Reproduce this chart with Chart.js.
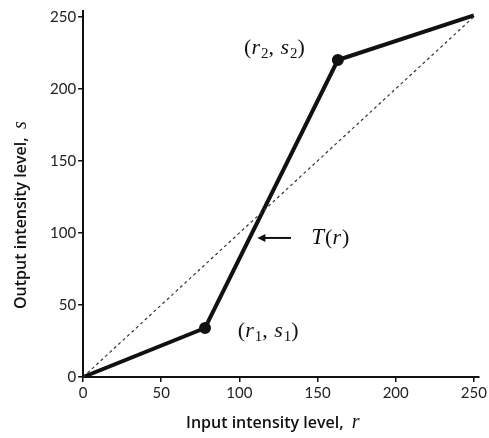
<!DOCTYPE html>
<html>
<head>
<meta charset="utf-8">
<script src="https://cdn.jsdelivr.net/npm/chart.js@4"></script>
<style>
  html, body { margin: 0; padding: 0; background: #fff; }
  #wrap { width: 489px; height: 438px; }
</style>
</head>
<body>
<div id="wrap"><canvas id="chart" width="489" height="438"></canvas></div>
<script>
// transformation function T(r), control points
var curveR = [0, 78, 163, 250];
var curveS = [0, 34, 220, 251];
// identity line
var diagR = [0, 250];
var diagS = [0, 250];
var tickValues = [0, 50, 100, 150, 200, 250];

function pts(xs, ys) {
    var out = [];
    for (var i = 0; i < xs.length; i++) out.push({ x: xs[i], y: ys[i] });
    return out;
}

var SERIF = '"Liberation Serif"';

// draws the (r1,s1), (r2,s2), T(r) labels, the arrow and the axis titles
var labelPlugin = {
    id: 'labels',
    afterDatasetsDraw: function(chart) {
        var c = chart.ctx;
        var xs = chart.scales.x, ys = chart.scales.y;
        c.save();
        c.fillStyle = '#111';
        c.textBaseline = 'alphabetic';

        function run(parts, x, y) {
            parts.forEach(function(p) {
                c.font = p[1];
                c.fillText(p[0], x, y + (p[2] || 0));
                x += c.measureText(p[0]).width + (p[3] || 0);
            });
        }
        function pair(sub, rx, sy) {
            run([
                ['(', '22px ' + SERIF],
                ['r', 'italic 22px ' + SERIF, 0, 1],
                [sub, '15px ' + SERIF, 4],
                [', ', '22px ' + SERIF, 0, 1],
                ['s', 'italic 22px ' + SERIF, 0, 1],
                [sub, '15px ' + SERIF, 4],
                [')', '22px ' + SERIF]
            ], xs.getPixelForValue(rx), ys.getPixelForValue(sy));
        }
        pair('2', 103, 224);
        pair('1', 99, 28);

        // T(r)
        run([
            ['T', 'italic 23px ' + SERIF, 0, 1],
            ['(', '22px ' + SERIF],
            ['r', 'italic 22px ' + SERIF, 0, 1],
            [')', '22px ' + SERIF]
        ], xs.getPixelForValue(146), ys.getPixelForValue(92));

        // arrow
        var ax1 = xs.getPixelForValue(133), ax2 = xs.getPixelForValue(111.5);
        var ay = ys.getPixelForValue(96.5);
        c.strokeStyle = '#111';
        c.lineWidth = 2;
        c.beginPath();
        c.moveTo(ax1, ay);
        c.lineTo(ax2 + 4, ay);
        c.stroke();
        c.beginPath();
        c.moveTo(ax2, ay);
        c.lineTo(ax2 + 8, ay - 4);
        c.lineTo(ax2 + 8, ay + 4);
        c.closePath();
        c.fill();

        // axis titles
        var sans = '600 16px "Open Sans"';
        var ital = 'italic 20px ' + SERIF;
        var xt = 'Input intensity level,  ';
        run([[xt, sans], ['r', ital]], 186, 428);

        c.translate(26, 0);
        c.rotate(-Math.PI / 2);
        var yt = 'Output intensity level,  ';
        run([[yt, sans], ['s', ital]], -309, 0);
        c.restore();
    }
};

var ctx = document.getElementById('chart');
var chart = new Chart(ctx, {
    type: 'scatter',
    data: {
        datasets: [{
            label: 'identity',
            data: pts(diagR, diagS),
            showLine: true,
            borderColor: '#333',
            borderWidth: 1.2,
            borderDash: [3, 3],
            pointRadius: 0
        }, {
            label: 'T(r)',
            data: pts(curveR, curveS),
            showLine: true,
            borderColor: '#111',
            backgroundColor: '#111',
            borderWidth: 4,
            pointRadius: [0, 4, 4, 0],
            pointHoverRadius: 0
        }]
    },
    options: {
        responsive: false,
        animation: false,
        events: [],
        layout: { padding: { top: 10, right: 10, left: 48, bottom: 34 } },
        plugins: {
            legend: { display: false },
            tooltip: { enabled: false }
        },
        scales: {
            x: {
                type: 'linear',
                min: 0,
                max: 253,
                afterBuildTicks: function(s) { s.ticks = tickValues.map(function(v) { return { value: v }; }); },
                grid: { drawOnChartArea: false, drawTicks: true, tickLength: 5, color: '#111', lineWidth: 1.5 },
                border: { color: '#111', width: 2 },
                ticks: { color: '#222', font: { family: 'Lato', size: 15 }, padding: 2, maxRotation: 0 }
            },
            y: {
                type: 'linear',
                min: 0,
                max: 254,
                afterBuildTicks: function(s) { s.ticks = tickValues.map(function(v) { return { value: v }; }); },
                grid: { drawOnChartArea: false, drawTicks: true, tickLength: 5, color: '#111', lineWidth: 1.5 },
                border: { color: '#111', width: 2 },
                ticks: { color: '#222', font: { family: 'Lato', size: 15 }, padding: 2 }
            }
        }
    },
    plugins: [labelPlugin]
});
</script>
</body>
</html>
